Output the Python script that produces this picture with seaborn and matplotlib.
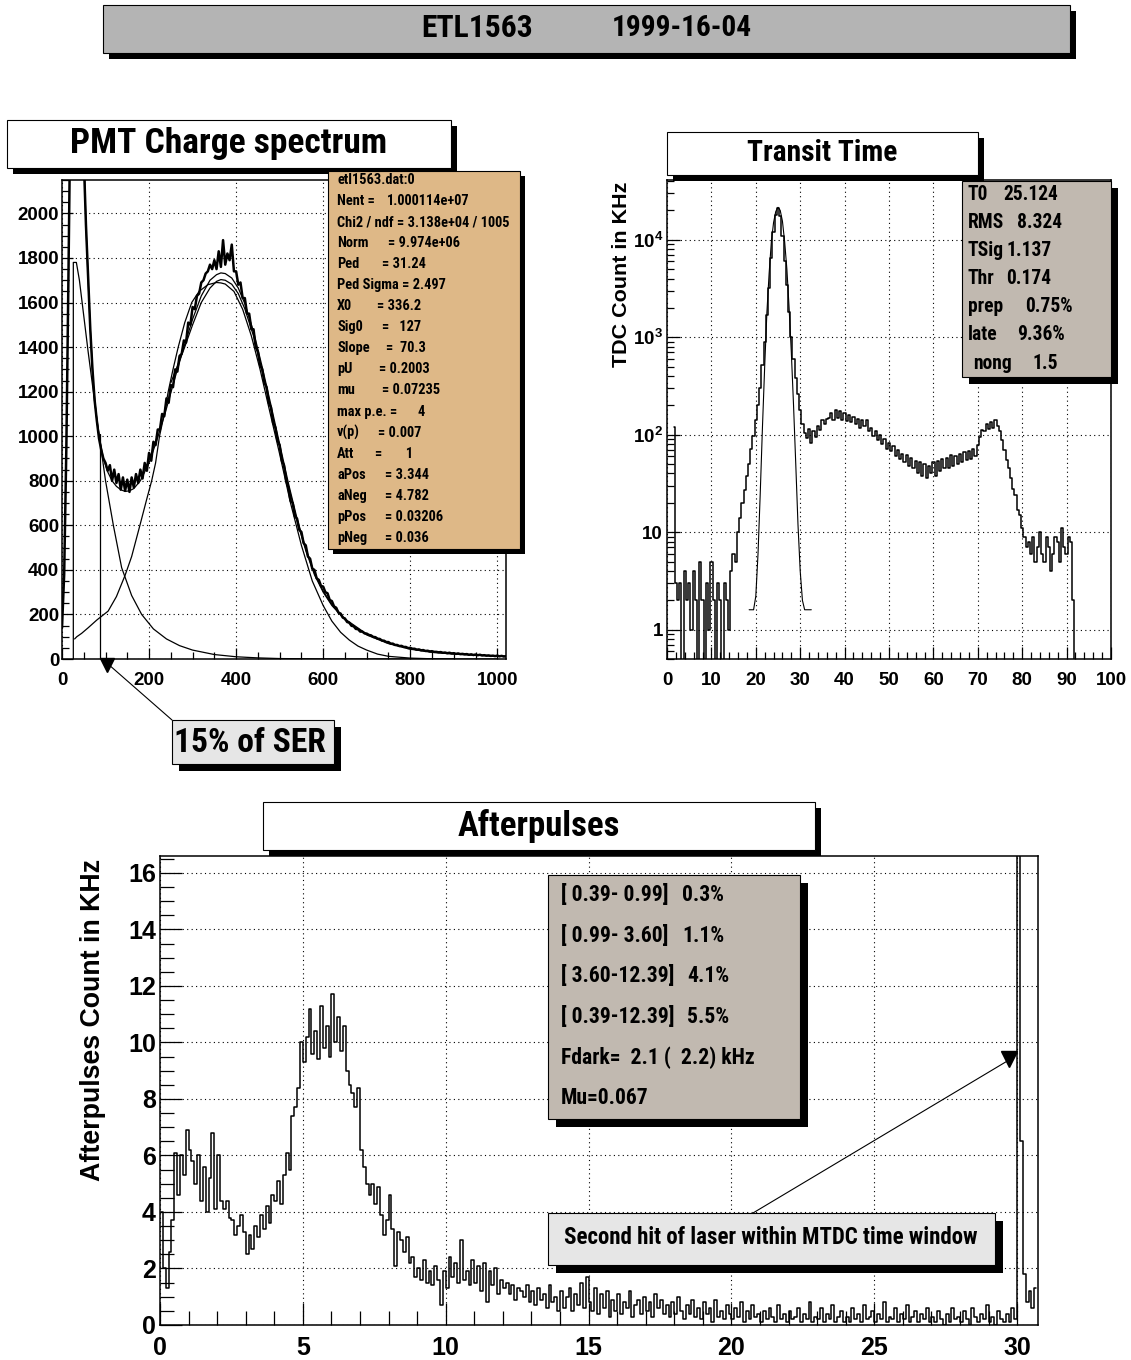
import numpy as np
import matplotlib
matplotlib.use("Agg")
import matplotlib.pyplot as plt
import seaborn as sns
from matplotlib import patches, font_manager
from matplotlib.lines import Line2D
from matplotlib.ticker import MultipleLocator, FixedLocator, FixedFormatter, LogLocator, NullFormatter

W, H, DPI = 1131, 1360, 100

# ---------------------------------------------------------------- data
# PMT charge spectrum: histogram, bins of 5 ADC counts starting at 0
charge_start, charge_step = 0, 5
charge_counts = [
    140, 380, 950, 1750, 2600, 3000, 3000, 3000, 3000, 2700,
    2250, 1950, 1720, 1480, 1300, 1160, 1070, 990, 940, 900,
    880, 845, 870, 800, 850, 790, 830, 760, 815, 755,
    805, 750, 815, 770, 830, 790, 850, 810, 880, 845,
    925, 890, 975, 960, 1030, 1030, 1100, 1090, 1170, 1150,
    1230, 1220, 1300, 1290, 1360, 1370, 1430, 1420, 1510, 1500,
    1580, 1570, 1630, 1640, 1690, 1700, 1730, 1740, 1770, 1750,
    1790, 1750, 1830, 1760, 1880, 1770, 1820, 1790, 1860, 1740,
    1740, 1680, 1690, 1620, 1620, 1550, 1550, 1480, 1480, 1400,
    1380, 1320, 1300, 1240, 1220, 1150, 1130, 1060, 1040, 980,
    960, 890, 870, 800, 770, 710, 700, 640, 630, 580,
    570, 520, 510, 460, 450, 405, 400, 362, 355, 328,
    325, 300, 295, 265, 260, 236, 230, 208, 204, 186,
    182, 166, 163, 149, 147, 135, 134, 123, 123, 115,
    114, 108, 106, 99, 98, 91, 90, 83, 82, 76,
    76, 69, 69, 63, 63, 58, 59, 54, 54, 49,
    50, 46, 46, 42, 43, 39, 40, 36, 37, 34,
    35, 32, 32, 30, 31, 28, 29, 26, 28, 25,
    26, 23, 25, 22, 23, 21, 22, 19, 21, 18,
    20, 17, 19, 16, 17, 15, 16, 14, 15, 13,
    15, 12, 14, 11, 12,
]
fit_total_x = [40, 50, 55, 60, 65, 72, 80, 87, 95, 105, 115, 125, 135, 145, 155, 165, 180,
               200, 220, 240, 260, 280, 300, 320, 340, 355, 365, 375, 390, 405, 420, 440,
               460, 480, 500, 520, 540, 560, 580, 600, 620, 650, 700, 750, 800, 850, 900,
               950, 1000, 1020]
fit_total_y = [3000, 2300, 1950, 1700, 1480, 1230, 1070, 980, 900, 840, 800, 775, 760, 752,
               755, 765, 800, 880, 995, 1125, 1265, 1400, 1525, 1630, 1700, 1725, 1733, 1730,
               1710, 1665, 1595, 1470, 1310, 1140, 965, 790, 630, 495, 385, 305, 245, 180,
               112, 72, 46, 32, 24, 18, 14, 13]
fit_mid_x = [250, 280, 300, 320, 340, 355, 365, 375, 390, 405, 420, 440, 460, 480, 500, 520,
             540, 560, 580, 600, 620, 650, 700, 750, 800, 850, 900, 950, 1000, 1020]
fit_mid_y = [1240, 1390, 1500, 1600, 1665, 1695, 1703, 1700, 1682, 1640, 1572, 1450, 1292,
             1125, 952, 778, 620, 487, 378, 300, 240, 176, 108, 69, 44, 30, 22, 17, 13, 12]
gauss_x = [29, 34, 45, 60, 80, 106, 125, 145, 160, 179, 195, 206, 215, 224, 235, 244, 255,
           267, 282, 298, 315, 335, 355, 365, 375, 395, 415, 435, 455, 475, 500, 525, 550,
           575, 600, 620, 640, 660, 680, 700, 725, 750, 800, 850, 900]
gauss_y = [90, 100, 115, 140, 175, 215, 280, 376, 460, 600, 720, 800, 880, 1000, 1100, 1200,
           1300, 1400, 1510, 1600, 1650, 1680, 1690, 1688, 1683, 1650, 1570, 1450, 1300,
           1130, 920, 700, 510, 350, 240, 170, 120, 85, 58, 40, 22, 12, 4, 1, 0]
expo_x = [26, 26, 33, 40, 50, 60, 70, 80, 90, 100, 118, 137, 160, 183, 210, 240, 270, 300,
          350, 400, 450, 500, 600, 1000]
expo_y = [0, 1780, 1780, 1700, 1540, 1380, 1230, 1080, 940, 800, 600, 410, 285, 200, 135,
          90, 60, 40, 20, 10, 5, 2, 0.5, 0]
ser_cut_x, ser_cut_top = 87, 1010

charge_stats = [
    ("etl1563.dat:0", "", 0),
    ("Nent =", "1.000114e+07", 387),
    ("Chi2 / ndf = 3.138e+04 / 1005", "", 0),
    ("Norm", "= 9.974e+06", 388),
    ("Ped", "= 31.24", 382),
    ("Ped Sigma = 2.497", "", 0),
    ("X0", "= 336.2", 377),
    ("Sig0", "=   127", 382),
    ("Slope", "=  70.3", 386),
    ("pU", "= 0.2003", 379),
    ("mu", "= 0.07235", 382),
    ("max p.e. =", "4", 417),
    ("v(p)", "= 0.007", 378),
    ("Att", "=       1", 375),
    ("aPos", "= 3.344", 385),
    ("aNeg", "= 4.782", 385),
    ("pPos", "= 0.03206", 385),
    ("pNeg", "= 0.036", 385),
]

# Transit time: histogram, bins of 0.5 ns starting at 1.5
tt_start, tt_step = 1.5, 0.5
tt_counts = [
    120, 3, 2, 3, 0, 4, 2, 3, 1, 4,
    2, 0, 5, 2, 0, 3, 1, 5, 2, 0,
    3, 2, 0, 3, 2, 1, 4, 6, 5, 10,
    14, 20, 27, 38, 50, 72, 97, 140, 200, 300,
    520, 900, 1700, 3200, 6500, 12000, 18000, 21000, 17500, 11000,
    6000, 3400, 1800, 1000, 600, 380, 260, 180, 130, 105,
    92, 115, 82, 110, 94, 122, 112, 140, 128, 145,
    150, 168, 140, 178, 148, 175, 142, 165, 138, 160,
    135, 152, 128, 146, 118, 140, 124, 142, 108, 118,
    96, 108, 88, 100, 80, 90, 72, 82, 68, 76,
    60, 70, 56, 64, 52, 62, 48, 58, 45, 54,
    40, 52, 38, 50, 36, 48, 40, 52, 38, 54,
    42, 56, 45, 58, 46, 62, 48, 60, 50, 64,
    52, 66, 55, 68, 56, 72, 60, 78, 95, 112,
    108, 128, 115, 135, 118, 140, 122, 110, 88, 70,
    55, 45, 36, 28, 24, 17, 15, 11, 9, 7,
    8, 6, 9, 5, 7, 10, 6, 5, 9, 7,
    4, 6, 9, 8, 5, 11, 7, 6, 9, 8,
    2, 0,
]
tt_fit_x = [18.5, 19.5, 20.0, 20.5, 21.0, 21.5, 22.0, 22.5, 23.0, 23.5, 24.0, 24.5, 25.0,
            25.5, 26.0, 26.5, 27.0, 27.5, 28.0, 28.5, 29.0, 29.5, 30.0, 30.5, 31.0, 32.5]
tt_fit_y = [1.6, 1.6, 2.2, 6, 25, 120, 500, 1800, 4500, 9500, 15000, 19500, 21500, 20000,
            15500, 9500, 5000, 2000, 700, 200, 50, 12, 4, 2, 1.6, 1.6]
tt_ticks = [1, 10, 100, 1000, 10000]
tt_ticklabels = ["1", "10", "$10^{2}$", "$10^{3}$", "$10^{4}$"]
tt_stats = [("T0", "25.124", 1003), ("RMS", "8.324", 1017), ("TSig", "1.137", 1007),
            ("Thr", "0.174", 1006), ("prep", "0.75%", 1025), ("late", "9.36%", 1017),
            ("nong", "1.5", 1033)]
tt_stats_x = [968, 968, 968, 968, 968, 968, 973]

# Afterpulses: histogram, bins of 0.1 us starting at 0
ap_start, ap_step = 0.0, 0.1
ap_counts = [
    4.0, 2.0, 1.3, 2.6, 3.7, 6.1, 4.6, 6.0, 5.3, 6.9,
    6.2, 5.8, 5.0, 6.0, 4.4, 5.6, 4.0, 5.2, 6.8, 4.1,
    6.0, 4.4, 4.1, 4.4, 3.8, 3.7, 3.2, 3.5, 3.9, 3.3,
    2.5, 3.2, 2.7, 3.5, 3.1, 3.9, 3.4, 4.2, 3.6, 4.6,
    4.4, 5.1, 4.3, 5.3, 6.1, 5.5, 7.4, 7.7, 8.4, 10.0,
    9.3, 10.2, 11.2, 9.6, 10.4, 9.4, 11.3, 9.8, 10.6, 9.5,
    11.7, 10.0, 10.9, 9.7, 10.6, 9.0, 8.5, 8.2, 7.7, 8.4,
    6.2, 5.6, 5.0, 4.6, 5.0, 4.3, 4.9, 3.9, 3.2, 3.7,
    4.6, 3.4, 2.1, 3.3, 3.0, 2.6, 3.1, 2.2, 2.4, 1.7,
    2.0, 1.6, 2.3, 1.5, 1.9, 1.4, 2.1, 1.6, 0.7, 1.9,
    1.3, 2.4, 1.7, 2.2, 1.5, 3.0, 1.6, 1.9, 1.4, 2.3,
    1.5, 2.1, 1.2, 2.2, 0.8, 1.9, 1.4, 2.0, 1.1, 1.6,
    1.3, 1.5, 1.1, 1.4, 0.9, 1.3, 1.2, 1.0, 1.4, 0.8,
    1.2, 0.7, 1.3, 0.9, 1.1, 0.6, 1.4, 0.8, 1.0, 0.5,
    1.2, 0.6, 1.0, 1.3, 0.5, 1.1, 0.7, 1.5, 0.6, 1.7,
    0.8, 0.5, 1.3, 0.4, 1.1, 0.6, 1.2, 0.3, 0.9, 0.5,
    1.1, 0.4, 0.8, 0.6, 1.2, 0.3, 0.7, 0.9, 0.4, 1.0,
    0.5, 0.8, 0.3, 1.1, 0.6, 0.9, 0.4, 0.7, 0.3, 0.8,
    0.4, 1.0, 0.5, 0.2, 0.7, 0.4, 0.9, 0.3, 0.6, 0.2,
    0.8, 0.4, 0.6, 0.1, 0.9, 0.3, 0.5, 0.2, 0.7, 0.4,
    0.2, 0.6, 0.3, 0.8, 0.1, 0.5, 0.2, 0.7, 0.3, 0.4,
    0.1, 0.5, 0.2, 0.6, 0.3, 0.1, 0.7, 0.2, 0.4, 0.1,
    0.5, 0.2, 0.3, 0.6, 0.1, 0.4, 0.2, 0.8, 0.1, 0.3,
    0.2, 0.6, 0.1, 0.4, 0.2, 0.7, 0.1, 0.3, 0.5, 0.1,
    0.3, 0.1, 0.6, 0.2, 0.4, 0.1, 0.7, 0.2, 0.3, 0.5,
    0.1, 0.4, 0.2, 0.8, 0.1, 0.3, 0.2, 0.6, 0.1, 0.4,
    0.2, 0.7, 0.1, 0.3, 0.5, 0.1, 0.4, 0.2, 0.6, 0.1,
    0.3, 0.1, 0.5, 0.2, 0.0, 0.4, 0.1, 0.6, 0.2, 0.3,
    0.1, 0.5, 0.2, 0.0, 0.6, 0.3, 0.1, 0.4, 0.2, 0.7,
    0.1, 0.3, 0.0, 0.5, 0.2, 0.1, 0.4, 0.1, 0.6, 0.2,
    18.0, 6.5, 1.8, 0.8, 1.2, 0.6, 1.3,
]
ap_stats = [("[ 0.39- 0.99]", "0.3%", 682), ("[ 0.99- 3.60]", "1.1%", 682),
            ("[ 3.60-12.39]", "4.1%", 687), ("[ 0.39-12.39]", "5.5%", 687),
            ("Fdark=  2.1 (  2.2) kHz", "", 0), ("Mu=0.067", "", 0)]

main_title = ("ETL1563", "1999-16-04")
charge_title = "PMT Charge spectrum"
tt_title = "Transit Time"
ap_title = "Afterpulses"
tt_ylabel = "TDC Count in KHz"
ap_ylabel = "Afterpulses Count in KHz"
ser_note = "15% of SER"
laser_note = "Second hit of laser within MTDC time window"

# ---------------------------------------------------------------- fonts/style
flist = font_manager.fontManager.ttflist
names = {f.name for f in flist}
SANS = "Liberation Sans" if "Liberation Sans" in names else "DejaVu Sans"
NARROW, STRETCH = SANS, "normal"
for cand in ["Liberation Sans Narrow", "Roboto Condensed", "Noto Sans Condensed",
             "Open Sans Condensed", "DejaVu Sans Condensed"]:
    if cand in names:
        NARROW = cand
        break
else:
    if any(f.name == "DejaVu Sans" and str(f.stretch) in ("condensed", "semi-condensed", "75", "87.5")
           for f in flist):
        NARROW, STRETCH = "DejaVu Sans", "condensed"

sns.set_theme(style="white")
plt.rcParams.update({
    "font.family": [SANS, "DejaVu Sans"],
    "font.weight": "bold",
    "mathtext.fontset": "custom",
    "mathtext.rm": f"{SANS}:bold",
    "mathtext.it": f"{SANS}:bold",
    "mathtext.bf": f"{SANS}:bold",
    "mathtext.default": "rm",
    "axes.edgecolor": "black",
    "axes.linewidth": 1.1,
    "xtick.color": "black",
    "ytick.color": "black",
})

fig = plt.figure(figsize=(W / DPI, H / DPI), dpi=DPI)
fig.patch.set_facecolor("white")
renderer = fig.canvas.get_renderer()


def fx(x):
    return x / W


def fy(y):
    return 1 - y / H


def box(x0, y0, x1, y1, fc, sh=6):
    if sh:
        fig.add_artist(patches.Rectangle((fx(x0 + sh), fy(y1 + sh)), (x1 - x0) / W, (y1 - y0) / H,
                                         transform=fig.transFigure, fc="black", ec="none", zorder=5))
    fig.add_artist(patches.Rectangle((fx(x0), fy(y1)), (x1 - x0) / W, (y1 - y0) / H,
                                     transform=fig.transFigure, fc=fc, ec="black", lw=0.8, zorder=6))


def fam(family):
    return [family or NARROW, "DejaVu Sans"]


def fit_size(s, target_px, family=None, stretch=None):
    t = fig.text(0, 0, s, fontsize=20, fontweight="bold", family=fam(family),
                 fontstretch=stretch or STRETCH)
    w = t.get_window_extent(renderer).width
    t.remove()
    return 20.0 * target_px / w


def ftext(x, y, s, size, ha="left", family=None, stretch=None, **kw):
    fig.text(fx(x), fy(y), s, fontsize=size, ha=ha, va="center", fontweight="bold",
             family=fam(family), fontstretch=stretch or STRETCH, color="black", zorder=7, **kw)


def style(ax, maj, mnr, lsize, xpad, ypad):
    ax.set_facecolor("white")
    ax.set_axisbelow(True)
    ax.grid(True, which="major", color="black", linestyle=(0, (1.0, 3.0)), linewidth=0.8)
    ax.tick_params(which="both", direction="in", top=False, right=False, left=True, bottom=True,
                   width=0.9, color="black")
    ax.tick_params(which="major", length=maj, labelsize=lsize)
    ax.tick_params(which="minor", length=mnr)
    ax.tick_params(axis="x", which="major", pad=xpad)
    ax.tick_params(axis="y", which="major", pad=ypad)
    for s in ax.spines.values():
        s.set_visible(True)
        s.set_color("black")
        s.set_linewidth(1.1)
    ax.set_xlabel("")
    ax.set_ylabel("")


# ---------------------------------------------------------------- charge spectrum
ax1 = fig.add_axes([fx(62), fy(659), 444 / W, 479 / H])
cx = charge_start + charge_step * np.arange(len(charge_counts))
sns.lineplot(x=cx, y=charge_counts, ax=ax1, color="black", linewidth=1.8,
             estimator=None, legend=False)
for xs, ys in [(fit_total_x, fit_total_y), (fit_mid_x, fit_mid_y), (gauss_x, gauss_y), (expo_x, expo_y)]:
    sns.lineplot(x=xs, y=ys, ax=ax1, color="black", linewidth=0.9, estimator=None, sort=False, legend=False)
sns.lineplot(x=[ser_cut_x, ser_cut_x], y=[0, ser_cut_top], ax=ax1, color="black", linewidth=0.9,
             estimator=None, sort=False, legend=False)
ax1.set_xlim(0, 1020)
ax1.set_ylim(0, 2150)
ax1.xaxis.set_major_locator(MultipleLocator(200))
ax1.xaxis.set_minor_locator(MultipleLocator(50))
ax1.yaxis.set_major_locator(MultipleLocator(200))
ax1.yaxis.set_minor_locator(MultipleLocator(50))
style(ax1, 8, 5, 13.5, 9, 2)

# ---------------------------------------------------------------- transit time
ax2 = fig.add_axes([fx(667), fy(659), 444 / W, 479 / H])
ax2.set_yscale("log")
tx = tt_start + tt_step * np.arange(len(tt_counts))
sns.lineplot(x=tx, y=np.clip(np.array(tt_counts, float), 0.2, None), ax=ax2, color="black",
             linewidth=1.1, drawstyle="steps-mid", estimator=None, legend=False)
sns.lineplot(x=tt_fit_x, y=tt_fit_y, ax=ax2, color="black", linewidth=0.8, estimator=None,
             sort=False, legend=False)
ax2.set_xlim(0, 100)
ax2.set_ylim(0.5, 41000)
ax2.xaxis.set_major_locator(MultipleLocator(10))
ax2.xaxis.set_minor_locator(MultipleLocator(2))
ax2.yaxis.set_major_locator(FixedLocator(tt_ticks))
ax2.yaxis.set_major_formatter(FixedFormatter(tt_ticklabels))
ax2.yaxis.set_minor_locator(LogLocator(base=10, subs=np.arange(2, 10)))
ax2.yaxis.set_minor_formatter(NullFormatter())
style(ax2, 9, 5, 13.5, 9, 3)

# ---------------------------------------------------------------- afterpulses
ax3 = fig.add_axes([fx(160), fy(1325), 878 / W, 469 / H])
ap_x = ap_start + ap_step / 2 + ap_step * np.arange(len(ap_counts))
sns.lineplot(x=ap_x, y=ap_counts, ax=ax3, color="black", linewidth=1.1,
             drawstyle="steps-mid", estimator=None, legend=False)
ax3.set_xlim(0, 30.73)
ax3.set_ylim(0, 16.6)
ax3.xaxis.set_major_locator(MultipleLocator(5))
ax3.xaxis.set_minor_locator(MultipleLocator(1))
ax3.yaxis.set_major_locator(MultipleLocator(2))
ax3.yaxis.set_minor_locator(MultipleLocator(0.5))
style(ax3, 16, 10, 18, 8, 3)

# ---------------------------------------------------------------- titles & boxes
box(103, 5, 1070, 53, "#b4b4b4", sh=6)
ftext(477, 28, main_title[0], fit_size(main_title[0], 112), ha="center")
ftext(682, 28, main_title[1], fit_size(main_title[1], 140), ha="center")

box(7, 120, 451, 168, "white", sh=6)
ftext(229, 144, charge_title, fit_size(charge_title, 316), ha="center")

box(667, 132, 978, 175, "white", sh=6)
ftext(822, 153, tt_title, fit_size(tt_title, 150), ha="center")

box(263, 802, 815, 850, "white", sh=6)
ftext(539, 826, ap_title, fit_size(ap_title, 162), ha="center")

# stats box, charge
box(328, 171, 520, 549, "#deb887", sh=5)
s1 = fit_size("Chi2 / ndf = 3.138e+04 / 1005", 173)
for i, (lab, val, vx) in enumerate(charge_stats):
    yy = 180 + 21.05 * i
    ftext(337, yy, lab, s1)
    if val:
        ftext(vx, yy, val, s1)

# stats box, transit
box(962, 181, 1111, 377, "#c1b9b0", sh=7)
s2 = fit_size("9.36%", 48)
for i, ((lab, val, vx), lx) in enumerate(zip(tt_stats, tt_stats_x)):
    yy = 194 + 28.2 * i
    ftext(lx, yy, lab, s2)
    ftext(vx, yy, val, s2)

# stats box, afterpulses
box(548, 875, 800, 1119, "#c1b9b0", sh=8)
s3 = fit_size("Fdark=  2.1 (  2.2) kHz", 194)
for i, (lab, val, vx) in enumerate(ap_stats):
    yy = 895 + 40.6 * i
    ftext(561, yy, lab, s3)
    if val:
        ftext(vx, yy, val, s3)

# axis titles
ftext(621, 274, tt_ylabel, fit_size(tt_ylabel, 185, SANS, "normal"), ha="center", family=SANS,
      stretch="normal", rotation=90)
ftext(93, 1020, ap_ylabel, fit_size(ap_ylabel, 323, SANS, "normal"), ha="center", family=SANS,
      stretch="normal", rotation=90)

# annotations
box(172, 720, 334, 764, "#e6e6e6", sh=7)
ftext(250, 743, ser_note, fit_size(ser_note, 152), ha="center")
fig.add_artist(Line2D([fx(172), fx(108)], [fy(720), fy(664)], transform=fig.transFigure,
                      color="black", lw=0.8, zorder=8))
fig.add_artist(Line2D([fx(107)], [fy(665)], transform=fig.transFigure, marker="v",
                      markersize=10, color="black", ls="none", zorder=8))

box(548, 1213, 995, 1265, "#e6e6e6", sh=8)
ftext(771, 1238, laser_note, fit_size(laser_note, 413), ha="center")
fig.add_artist(Line2D([fx(753), fx(1009)], [fy(1213), fy(1060)], transform=fig.transFigure,
                      color="black", lw=0.8, zorder=8))
fig.add_artist(Line2D([fx(1009)], [fy(1059)], transform=fig.transFigure, marker="v",
                      markersize=12, color="black", ls="none", zorder=8))

fig.savefig("out.png", dpi=DPI, facecolor="white")
